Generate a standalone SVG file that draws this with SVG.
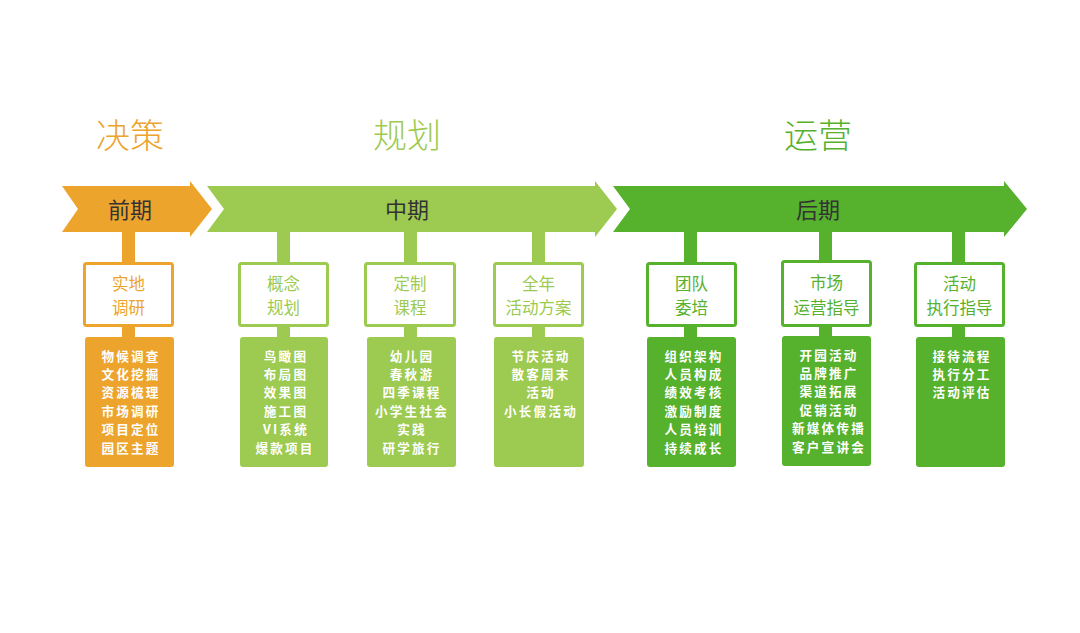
<svg xmlns="http://www.w3.org/2000/svg" width="1080" height="633" viewBox="0 0 1080 633">
<style>
.title{font-family:"Noto Sans CJK SC",sans-serif;font-weight:200;font-size:34px;text-anchor:middle;dominant-baseline:central}
.phase{font-family:"Noto Sans CJK SC",sans-serif;font-size:22px;fill:#333;text-anchor:middle;dominant-baseline:central}
.bt{font-family:"Noto Sans CJK SC",sans-serif;font-size:16.5px;text-anchor:middle;dominant-baseline:central}
.dt{font-family:"Noto Sans CJK SC",sans-serif;font-weight:bold;font-size:12.6px;letter-spacing:2.2px;fill:#fff;text-anchor:middle;dominant-baseline:central}
.o{fill:#EDA42D}.l{fill:#9DCA50}.g{fill:#56B12D}
.ob{fill:#fff;stroke:#EDA42D;stroke-width:3}
.lb{fill:#fff;stroke:#9DCA50;stroke-width:3}
.gb{fill:#fff;stroke:#56B12D;stroke-width:3}
</style>
<rect width="1080" height="633" fill="#fff"/>
<text class="title" x="130" y="133" fill="#EDA42D">决策</text>
<text class="title" x="407" y="133" fill="#9DCA50">规划</text>
<text class="title" x="818" y="133" fill="#56B12D">运营</text>
<g id="arrows">
<polygon class="o" points="62,186 190,186 190,181 212,209 190,237 190,232 62,232 78,209"/>
<polygon class="l" points="207,186 595,186 595,181 617,209 595,237 595,232 207,232 224,209"/>
<polygon class="g" points="613,186 1004,186 1004,181 1027,209 1004,237 1004,232 613,232 630,209"/>
<text class="phase" x="130" y="208">前期</text>
<text class="phase" x="407" y="208">中期</text>
<text class="phase" x="818" y="208">后期</text>
</g>
<g id="connectors">
<rect class="o" x="122" y="232" width="13" height="106"/>
<rect class="l" x="277" y="232" width="13" height="106"/>
<rect class="l" x="404" y="232" width="13" height="106"/>
<rect class="l" x="532" y="232" width="13" height="106"/>
<rect class="g" x="684" y="232" width="13" height="106"/>
<rect class="g" x="819" y="232" width="13" height="106"/>
<rect class="g" x="952" y="232" width="13" height="106"/>
</g>
<g id="n1">
<rect class="ob" x="84.5" y="263.5" width="88" height="62" rx="2"/>
<text class="bt" x="128.5" y="283" fill="#EDA42D">实地</text>
<text class="bt" x="128.5" y="307" fill="#EDA42D">调研</text>
<rect class="o" x="85" y="337" width="89" height="130" rx="3"/>
<text class="dt" x="131" y="355">物候调查</text>
<text class="dt" x="131" y="373.4">文化挖掘</text>
<text class="dt" x="131" y="391.8">资源梳理</text>
<text class="dt" x="131" y="410.2">市场调研</text>
<text class="dt" x="131" y="428.6">项目定位</text>
<text class="dt" x="131" y="447">园区主题</text>
</g>
<g id="n2">
<rect class="lb" x="239.5" y="263.5" width="88" height="62" rx="2"/>
<text class="bt" x="283.5" y="283" fill="#9DCA50">概念</text>
<text class="bt" x="283.5" y="307" fill="#9DCA50">规划</text>
<rect class="l" x="240" y="337" width="88" height="130" rx="3"/>
<text class="dt" x="286" y="355">鸟瞰图</text>
<text class="dt" x="286" y="373.4">布局图</text>
<text class="dt" x="286" y="391.8">效果图</text>
<text class="dt" x="286" y="410.2">施工图</text>
<text class="dt" x="286" y="428.6">VI系统</text>
<text class="dt" x="285" y="447">爆款项目</text>
</g>
<g id="n3">
<rect class="lb" x="365.5" y="263.5" width="89" height="62" rx="2"/>
<text class="bt" x="410" y="283" fill="#9DCA50">定制</text>
<text class="bt" x="410" y="307" fill="#9DCA50">课程</text>
<rect class="l" x="367" y="337" width="89" height="130" rx="3"/>
<text class="dt" x="412" y="355">幼儿园</text>
<text class="dt" x="412" y="373.4">春秋游</text>
<text class="dt" x="412" y="391.8">四季课程</text>
<text class="dt" x="412" y="410.2">小学生社会</text>
<text class="dt" x="412" y="428.6">实践</text>
<text class="dt" x="412" y="447">研学旅行</text>
</g>
<g id="n4">
<rect class="lb" x="494.5" y="263.5" width="88" height="62" rx="2"/>
<text class="bt" x="538.5" y="283" fill="#9DCA50">全年</text>
<text class="bt" x="538.5" y="307" fill="#9DCA50">活动方案</text>
<rect class="l" x="494" y="337" width="90" height="130" rx="3"/>
<text class="dt" x="541" y="355">节庆活动</text>
<text class="dt" x="541" y="373.4">散客周末</text>
<text class="dt" x="541" y="391.8">活动</text>
<text class="dt" x="541" y="410.2">小长假活动</text>
</g>
<g id="n5">
<rect class="gb" x="647.5" y="263.5" width="88" height="62" rx="2"/>
<text class="bt" x="691.5" y="283" fill="#56B12D">团队</text>
<text class="bt" x="691.5" y="307" fill="#56B12D">委培</text>
<rect class="g" x="647" y="337" width="89" height="130" rx="3"/>
<text class="dt" x="694" y="355">组织架构</text>
<text class="dt" x="694" y="373.4">人员构成</text>
<text class="dt" x="694" y="391.8">绩效考核</text>
<text class="dt" x="694" y="410.2">激励制度</text>
<text class="dt" x="694" y="428.6">人员培训</text>
<text class="dt" x="694" y="447">持续成长</text>
</g>
<g id="n6">
<rect class="gb" x="782.5" y="261.5" width="88" height="64" rx="2"/>
<text class="bt" x="826.5" y="282" fill="#56B12D">市场</text>
<text class="bt" x="826.5" y="307" fill="#56B12D">运营指导</text>
<rect class="g" x="782" y="336" width="89" height="130" rx="3"/>
<text class="dt" x="829" y="354">开园活动</text>
<text class="dt" x="829" y="372.4">品牌推广</text>
<text class="dt" x="829" y="390.8">渠道拓展</text>
<text class="dt" x="829" y="409.2">促销活动</text>
<text class="dt" x="829" y="427.6">新媒体传播</text>
<text class="dt" x="829" y="446">客户宣讲会</text>
</g>
<g id="n7">
<rect class="gb" x="915.5" y="263.5" width="88" height="62" rx="2"/>
<text class="bt" x="959.5" y="283" fill="#56B12D">活动</text>
<text class="bt" x="959.5" y="307" fill="#56B12D">执行指导</text>
<rect class="g" x="916" y="337" width="89" height="130" rx="3"/>
<text class="dt" x="962" y="355">接待流程</text>
<text class="dt" x="962" y="373.4">执行分工</text>
<text class="dt" x="962" y="391.8">活动评估</text>
</g>
</svg>
